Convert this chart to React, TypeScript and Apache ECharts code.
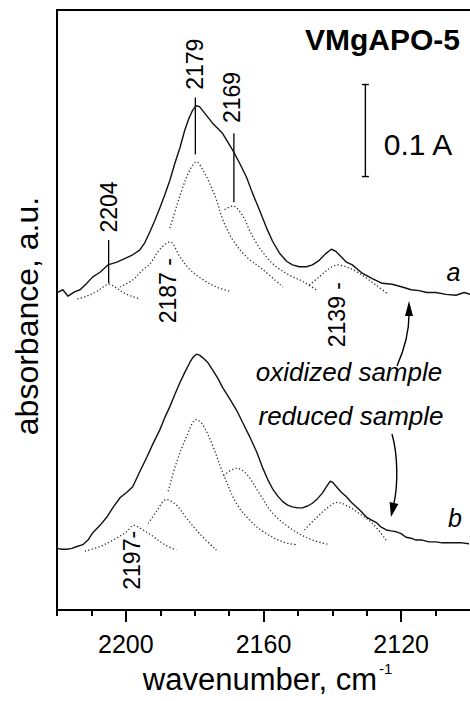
import React, { useEffect, useRef } from "react";
import * as echarts from "echarts";

// x axis: wavenumber (cm-1), reversed; y axis: absorbance (A)
const X_MIN = 2100;
const X_MAX = 2220;
const Y_MAX = 0.652;
const majorTicks = [2200, 2160, 2120];
const minorTicks = [2220, 2210, 2190, 2180, 2170, 2150, 2140, 2130, 2110];

// (a) oxidized sample, measured spectrum
const oxidized = [
  [2220.0, 0.345], [2218.3, 0.348], [2216.8, 0.341], [2214.8, 0.346], [2213.3, 0.348],
  [2211.6, 0.354], [2209.6, 0.362], [2207.5, 0.367], [2205.2, 0.375], [2202.6, 0.378],
  [2199.7, 0.383], [2198.0, 0.386], [2196.0, 0.391], [2194.5, 0.399], [2193.0, 0.411],
  [2191.6, 0.423], [2190.1, 0.437], [2188.7, 0.451], [2187.2, 0.467], [2185.8, 0.485],
  [2184.3, 0.502], [2182.9, 0.521], [2181.7, 0.534], [2180.6, 0.543], [2179.6, 0.548],
  [2178.6, 0.547], [2177.1, 0.540], [2174.8, 0.529], [2171.9, 0.518], [2169.0, 0.500],
  [2167.0, 0.486], [2164.9, 0.470], [2163.2, 0.453], [2161.2, 0.435], [2159.1, 0.415],
  [2157.4, 0.401], [2155.4, 0.388], [2153.3, 0.379], [2151.6, 0.375], [2149.6, 0.373],
  [2147.5, 0.373], [2145.8, 0.375], [2143.8, 0.380], [2142.0, 0.387], [2140.3, 0.392],
  [2139.1, 0.390], [2138.0, 0.386], [2135.9, 0.378], [2134.2, 0.375], [2131.3, 0.366],
  [2128.4, 0.360], [2125.5, 0.355], [2122.6, 0.354], [2119.7, 0.351], [2117.1, 0.348],
  [2114.8, 0.347], [2112.5, 0.345], [2109.9, 0.345], [2107.0, 0.343], [2104.1, 0.342],
  [2101.7, 0.345], [2100.0, 0.343],
];

// (a) fitted components
const oxPeak2204 = [
  [2214.1, 0.338], [2211.4, 0.341], [2208.5, 0.346], [2206.6, 0.351], [2205.0, 0.354],
  [2203.2, 0.351], [2200.8, 0.345], [2198.4, 0.341], [2195.9, 0.338],
];
const oxPeak2187 = [
  [2201.7, 0.351], [2197.9, 0.359], [2195.0, 0.370], [2193.0, 0.376], [2190.1, 0.392],
  [2187.2, 0.400], [2184.3, 0.384], [2181.4, 0.370], [2177.6, 0.359], [2173.7, 0.351],
  [2169.4, 0.346],
];
const oxPeak2179 = [
  [2187.2, 0.415], [2185.3, 0.438], [2183.4, 0.460], [2181.4, 0.478], [2179.5, 0.487],
  [2177.6, 0.478], [2175.7, 0.464], [2173.7, 0.446], [2171.8, 0.424], [2168.9, 0.402],
  [2165.0, 0.384], [2160.2, 0.370], [2154.4, 0.351],
];
const oxPeak2169 = [
  [2171.3, 0.435], [2168.9, 0.439], [2166.0, 0.428], [2164.1, 0.413], [2162.1, 0.399],
  [2159.2, 0.384], [2156.3, 0.373], [2152.5, 0.364], [2148.6, 0.357], [2144.7, 0.348],
];
const oxPeak2139 = [
  [2146.7, 0.353], [2143.8, 0.362], [2140.9, 0.371], [2138.5, 0.375], [2136.0, 0.373],
  [2133.1, 0.368], [2130.2, 0.361], [2127.3, 0.353], [2124.0, 0.344],
];

// (b) reduced sample, measured spectrum
const reduced = [
  [2220.0, 0.067], [2218.6, 0.066], [2217.1, 0.066], [2215.7, 0.067], [2214.2, 0.069],
  [2212.5, 0.071], [2211.0, 0.076], [2209.6, 0.084], [2207.5, 0.092], [2205.5, 0.101],
  [2203.8, 0.111], [2201.7, 0.122], [2199.7, 0.128], [2198.0, 0.134], [2196.0, 0.150],
  [2193.9, 0.166], [2192.2, 0.180], [2190.1, 0.196], [2188.7, 0.209], [2187.2, 0.221],
  [2185.8, 0.234], [2184.3, 0.247], [2182.9, 0.258], [2181.4, 0.269], [2180.6, 0.274],
  [2179.5, 0.278], [2178.6, 0.277], [2177.6, 0.274], [2176.2, 0.269], [2174.8, 0.261],
  [2173.3, 0.252], [2171.9, 0.242], [2169.9, 0.230], [2167.8, 0.217], [2166.1, 0.204],
  [2164.1, 0.189], [2162.0, 0.172], [2160.3, 0.155], [2158.8, 0.142], [2157.4, 0.132],
  [2155.9, 0.124], [2154.5, 0.118], [2153.0, 0.114], [2151.6, 0.112], [2150.1, 0.111],
  [2148.7, 0.111], [2147.2, 0.113], [2145.8, 0.116], [2144.3, 0.121], [2142.9, 0.127],
  [2141.7, 0.134], [2140.6, 0.140], [2140.0, 0.139], [2138.8, 0.134], [2137.4, 0.128],
  [2135.9, 0.123], [2134.5, 0.117], [2133.0, 0.112], [2131.6, 0.107], [2130.1, 0.101],
  [2128.7, 0.098], [2127.2, 0.095], [2125.8, 0.090], [2124.3, 0.087], [2122.9, 0.086],
  [2121.4, 0.085], [2120.0, 0.083], [2118.6, 0.079], [2117.1, 0.078], [2115.7, 0.076],
  [2113.9, 0.076], [2111.9, 0.074], [2109.9, 0.074], [2108.1, 0.073], [2106.1, 0.073],
  [2104.1, 0.073], [2102.3, 0.073], [2100.3, 0.072],
];

// (b) fitted components
const rdPeak2197 = [
  [2211.9, 0.064], [2207.5, 0.069], [2203.7, 0.076], [2199.8, 0.085], [2197.7, 0.092],
  [2195.0, 0.087], [2192.1, 0.080], [2188.7, 0.071], [2185.3, 0.065],
];
const rdPeak2189 = [
  [2193.5, 0.094], [2191.1, 0.107], [2188.2, 0.120], [2185.3, 0.114], [2182.4, 0.100],
  [2178.6, 0.083], [2173.7, 0.065],
];
const rdPeak2179 = [
  [2187.7, 0.129], [2185.3, 0.160], [2182.4, 0.188], [2179.5, 0.207], [2177.6, 0.201],
  [2174.7, 0.178], [2171.8, 0.149], [2167.9, 0.116], [2164.1, 0.098], [2160.0, 0.085],
  [2154.4, 0.074], [2150.5, 0.071],
];
const rdPeak2168 = [
  [2171.6, 0.146], [2167.9, 0.154], [2165.0, 0.148], [2160.9, 0.125], [2157.3, 0.105],
  [2151.5, 0.087], [2145.7, 0.076], [2140.9, 0.071],
];
const rdPeak2138 = [
  [2148.1, 0.087], [2144.7, 0.100], [2141.4, 0.111], [2138.5, 0.117], [2135.6, 0.113],
  [2132.2, 0.105], [2128.3, 0.094], [2124.4, 0.076],
];

// peak annotations (text, anchor wavenumber, anchor absorbance)
const peakLabelTexts = ["2204", "2179", "2169", "2187 -", "2139 -", "2197-"];
const peakLabelWn = [2205.0, 2179.8, 2169.1, 2187.7, 2138.7, 2198.1];
const peakLabelA = [0.438, 0.593, 0.557, 0.347, 0.321, 0.054];
const peakLineWn = [2205.0, 2179.8, 2168.6];
const peakLineTop = [0.402, 0.557, 0.518];
const peakLineBottom = [0.355, 0.495, 0.443];
const scaleBarWn = 2130.4;
const scaleBarFrom = 0.471;
const scaleBarSize = 0.1;

const FONT = "'Liberation Sans', Arial, Helvetica, sans-serif";

export default function App() {
  const ref = useRef<HTMLDivElement>(null);

  useEffect(() => {
    const chart = echarts.init(ref.current as HTMLDivElement, null, { renderer: "svg" });

    const solid = (name: string, data: number[][]) => ({
      type: "line",
      name,
      data,
      symbol: "none",
      silent: true,
      z: 3,
      lineStyle: { color: "#111", width: 1.4 },
    });
    const dotted = (name: string, data: number[][]) => ({
      type: "line",
      name,
      data,
      symbol: "none",
      smooth: 0.35,
      silent: true,
      z: 2,
      lineStyle: { color: "#333", width: 1.3, type: [1.3, 2.2] },
    });
    const black = { color: "#000", width: 2 };

    chart.setOption({
      animation: false,
      grid: { left: 57, top: 10, width: 414, height: 600 },
      xAxis: [
        {
          type: "value",
          min: X_MIN,
          max: X_MAX,
          inverse: true,
          position: "bottom",
          axisLine: { show: true, lineStyle: black },
          axisTick: { show: true, customValues: majorTicks, length: 12, lineStyle: black },
          axisLabel: {
            show: true,
            customValues: majorTicks,
            margin: 21,
            fontSize: 25,
            fontFamily: FONT,
            color: "#000",
            formatter: (v: number) => String(v),
          },
          splitLine: { show: false },
        },
        {
          type: "value",
          min: X_MIN,
          max: X_MAX,
          inverse: true,
          position: "bottom",
          axisLine: { show: false },
          axisTick: { show: true, customValues: minorTicks, length: 6, lineStyle: black },
          axisLabel: { show: false },
          splitLine: { show: false },
        },
        {
          type: "value",
          min: X_MIN,
          max: X_MAX,
          inverse: true,
          position: "top",
          axisLine: { show: true, lineStyle: black },
          axisTick: { show: false },
          axisLabel: { show: false },
          splitLine: { show: false },
        },
      ],
      yAxis: {
        type: "value",
        min: 0,
        max: Y_MAX,
        axisLine: { show: true, lineStyle: black },
        axisTick: { show: false },
        axisLabel: { show: false },
        splitLine: { show: false },
      },
      series: [
        dotted("ox 2204", oxPeak2204),
        dotted("ox 2187", oxPeak2187),
        dotted("ox 2179", oxPeak2179),
        dotted("ox 2169", oxPeak2169),
        dotted("ox 2139", oxPeak2139),
        dotted("red 2197", rdPeak2197),
        dotted("red 2189", rdPeak2189),
        dotted("red 2179", rdPeak2179),
        dotted("red 2168", rdPeak2168),
        dotted("red 2138", rdPeak2138),
        solid("oxidized", oxidized),
        solid("reduced", reduced),
      ],
    });

    const px = (wn: number, a: number) =>
      chart.convertToPixel({ xAxisIndex: 0, yAxisIndex: 0 }, [wn, a]) as number[];

    const graphics: any[] = [];
    peakLabelTexts.forEach((t, i) => {
      const p = px(peakLabelWn[i], peakLabelA[i]);
      graphics.push({
        type: "text",
        x: p[0],
        y: p[1],
        rotation: Math.PI / 2,
        style: {
          text: t,
          fontSize: 23,
          fontFamily: FONT,
          fill: "#000",
          align: "center",
          verticalAlign: "middle",
        },
      });
    });
    peakLineWn.forEach((wn, i) => {
      const p1 = px(wn, peakLineTop[i]);
      const p2 = px(wn, peakLineBottom[i]);
      graphics.push({
        type: "line",
        shape: { x1: p1[0], y1: p1[1], x2: p2[0], y2: p2[1] },
        style: { stroke: "#000", lineWidth: 1.3 },
      });
    });
    const sb1 = px(scaleBarWn, scaleBarFrom);
    const sb2 = px(scaleBarWn, scaleBarFrom + scaleBarSize);
    graphics.push(
      { type: "line", shape: { x1: sb1[0], y1: sb1[1], x2: sb2[0], y2: sb2[1] }, style: { stroke: "#000", lineWidth: 1.4 } },
      { type: "line", shape: { x1: sb1[0] - 3.5, y1: sb1[1], x2: sb1[0] + 3.5, y2: sb1[1] }, style: { stroke: "#000", lineWidth: 1.4 } },
      { type: "line", shape: { x1: sb2[0] - 3.5, y1: sb2[1], x2: sb2[0] + 3.5, y2: sb2[1] }, style: { stroke: "#000", lineWidth: 1.4 } },
      {
        type: "text", x: 418, y: 144,
        style: { text: "0.1 A", fontSize: 30, fontFamily: FONT, fill: "#000", align: "center", verticalAlign: "middle" },
      },
      {
        type: "text", x: 460, y: 39,
        style: { text: "VMgAPO-5", fontSize: 30, fontWeight: "bold", fontFamily: FONT, fill: "#000", align: "right", verticalAlign: "middle" },
      },
      {
        type: "text", x: 349, y: 372,
        style: { text: "oxidized sample", fontSize: 26, fontStyle: "italic", fontFamily: FONT, fill: "#000", align: "center", verticalAlign: "middle" },
      },
      {
        type: "text", x: 351, y: 416,
        style: { text: "reduced sample", fontSize: 26, fontStyle: "italic", fontFamily: FONT, fill: "#000", align: "center", verticalAlign: "middle" },
      },
      {
        type: "text", x: 453.5, y: 272,
        style: { text: "a", fontSize: 25, fontStyle: "italic", fontFamily: FONT, fill: "#000", align: "center", verticalAlign: "middle" },
      },
      {
        type: "text", x: 455, y: 518,
        style: { text: "b", fontSize: 25, fontStyle: "italic", fontFamily: FONT, fill: "#000", align: "center", verticalAlign: "middle" },
      },
      // arrows
      {
        type: "bezierCurve",
        shape: { x1: 397, y1: 366, cpx1: 404, cpy1: 350, cpx2: 409, cpy2: 335, x2: 409, y2: 315 },
        style: { stroke: "#000", lineWidth: 1.4, fill: null },
      },
      { type: "polygon", shape: { points: [[409, 301], [405, 316], [413, 316]] }, style: { fill: "#000" } },
      {
        type: "bezierCurve",
        shape: { x1: 392, y1: 434, cpx1: 398, cpy1: 455, cpx2: 398, cpy2: 485, x2: 394, y2: 503 },
        style: { stroke: "#000", lineWidth: 1.4, fill: null },
      },
      { type: "polygon", shape: { points: [[391, 517], [389.6, 502], [398.4, 504]] }, style: { fill: "#000" } },
      // axis titles
      {
        type: "text", x: 260, y: 679,
        style: { text: "wavenumber, cm", fontSize: 31, fontFamily: FONT, fill: "#000", align: "center", verticalAlign: "middle" },
      },
      {
        type: "text", x: 379, y: 668,
        style: { text: "-1", fontSize: 15, fontFamily: FONT, fill: "#000", align: "left", verticalAlign: "middle" },
      },
      {
        type: "text", x: 26.5, y: 316, rotation: Math.PI / 2,
        style: { text: "absorbance, a.u.", fontSize: 32, fontFamily: FONT, fill: "#000", align: "center", verticalAlign: "middle" },
      }
    );

    chart.setOption({ graphic: graphics });

    return () => chart.dispose();
  }, []);

  return (
    <div
      ref={ref}
      style={{ position: "fixed", left: 0, top: 0, width: 470, height: 701, background: "#fff" }}
    />
  );
}
